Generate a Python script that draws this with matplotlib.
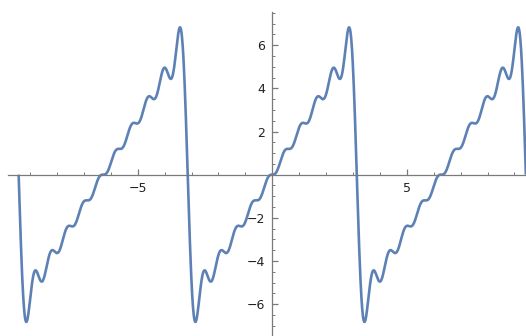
import numpy as np
import matplotlib
matplotlib.use("Agg")
import matplotlib.pyplot as plt
from matplotlib.ticker import FixedLocator, MultipleLocator

# Fourier partial sum of the sawtooth 2x on (-pi, pi):
# 10 terms, shown over three periods
n_terms = 10
amplitude = 4.0
x_range = (-3 * np.pi, 3 * np.pi)
coeffs = [amplitude * (-1) ** (k + 1) / k for k in range(1, n_terms + 1)]

x_ticks = [-5, 5]
y_ticks = [-6, -4, -2, 2, 4, 6]

line_color = "#5e81b5"
axis_color = "#7a7a7a"

x = np.linspace(x_range[0], x_range[1], 2000)
y = sum(c * np.sin(k * x) for k, c in enumerate(coeffs, start=1))

fig = plt.figure(figsize=(5.26, 3.36), dpi=100)
# axes box in pixels: left 8, right 526, top 12, bottom 336
ax = fig.add_axes([8 / 526, 0, 518 / 526, 324 / 336])
ax.plot(x, y, color=line_color, lw=1.9, solid_capstyle="butt")

ax.set_xlim(-9.82, 9.43)
ax.set_ylim(-7.48, 7.54)

for side in ("top", "right"):
    ax.spines[side].set_visible(False)
for side in ("left", "bottom"):
    ax.spines[side].set_position(("data", 0))
    ax.spines[side].set_color(axis_color)
    ax.spines[side].set_linewidth(0.9)

ax.xaxis.set_major_locator(FixedLocator(x_ticks))
ax.xaxis.set_minor_locator(MultipleLocator(1))
ax.yaxis.set_major_locator(FixedLocator(y_ticks))
ax.yaxis.set_minor_locator(MultipleLocator(0.5))
ax.set_xticklabels(["\u22125", "5"])
ax.set_yticklabels(["\u22126", "\u22124", "\u22122", "2", "4", "6"])

ax.tick_params(which="major", direction="in", length=4.5, width=0.9,
               color=axis_color, labelsize=9, labelcolor="#222222", pad=5)
ax.tick_params(which="minor", direction="in", length=2.5, width=0.7,
               color=axis_color)
ax.patch.set_alpha(0)

fig.savefig("out.png", dpi=100)
